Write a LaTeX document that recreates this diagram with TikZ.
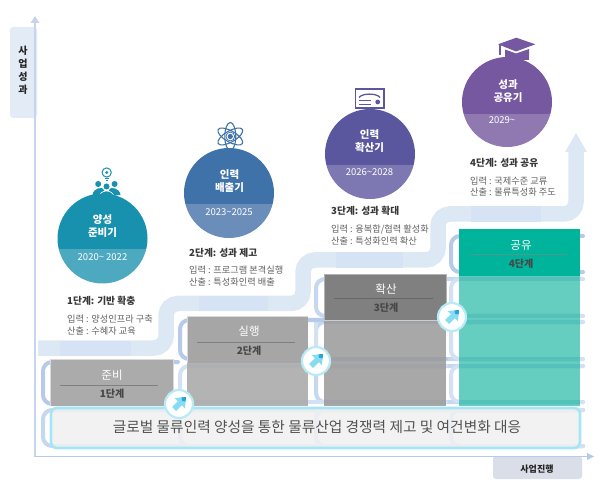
\documentclass[tikz,border=0pt]{standalone}
\usepackage{fontspec}
\setmainfont{Noto Sans CJK KR}
\usetikzlibrary{calc}
\definecolor{flow}{HTML}{DDE8F5}
\definecolor{rowA}{HTML}{B7CAE9}
\definecolor{rowB}{HTML}{C6D7F0}
\definecolor{rowC}{HTML}{D3E1F3}
\definecolor{cy}{HTML}{A6E6F4}
\definecolor{tagb}{HTML}{D9DEE8}
\definecolor{tealA}{HTML}{00AD96}
\definecolor{tealB}{HTML}{00B39B}
\definecolor{tealC}{HTML}{4C9A8E}
\definecolor{ic1}{HTML}{1791AE}
\definecolor{ic2}{HTML}{3F72A8}
\definecolor{ic3}{HTML}{5A579E}
\definecolor{ic4}{HTML}{7558A0}
\definecolor{lo1}{HTML}{4CA9C0}
\definecolor{lo2}{HTML}{6A8DB9}
\definecolor{lo3}{HTML}{7D78B1}
\definecolor{lo4}{HTML}{9078B1}
\definecolor{arL}{HTML}{86DDF2}
\definecolor{arD}{HTML}{2AA3DC}
\tikzset{
  rowline/.style={line width=4pt,line cap=round,rounded corners=9pt},
  head/.style={anchor=west,font=\fontsize{9.7}{11}\selectfont\bfseries,text=black!78,inner sep=0pt},
  desc/.style={anchor=west,font=\fontsize{9.2}{10}\selectfont,text=black!62,inner sep=0pt},
  ctitle/.style={font=\fontsize{10.5}{14}\selectfont\bfseries,text=white,align=center,inner sep=0pt},
  cdate/.style={font=\fontsize{9.5}{11}\selectfont,text=white!85,inner sep=0pt},
  btitle/.style={font=\fontsize{11.5}{14}\selectfont,text=white!93,inner sep=0pt},
  bstep/.style={font=\fontsize{10}{12}\selectfont\bfseries,text=black!72,inner sep=0pt},
  tagtext/.style={font=\fontsize{10}{12}\selectfont\bfseries,text=black!85,inner sep=0pt},
}
\newcommand{\orb}[5]{% x,y,cutY,top colour,lower colour
  \begin{scope}
    \clip (#1,#2) circle (45);
    \fill[#4] (#1-46,#2-46) rectangle (#1+46,#3);
    \fill[#5] (#1-46,#3) rectangle (#1+46,#2+46);
  \end{scope}
}
\newcommand{\badge}[2]{%
  \begin{scope}[shift={(#1,#2)}]
    \fill[white] (0,0) circle (14);
    \draw[cy!80!white,line width=2.2pt] (0,0) circle (14);
    \fill[arL] (7,-7)--(-4.5,-6)--(-1.2,-2.8)--(-7,3)--(-3,7)--(2.8,1.2)--(6,4.5)--cycle;
    \fill[arD] (7,-7)--(2.5,-6.6)--(3.2,-3.2)--(6.6,-2.5)--cycle;
  \end{scope}
}
\begin{document}
\begin{tikzpicture}[x=1pt,y=-1pt]
\useasboundingbox (0,0) rectangle (606,492);
% tags
\fill[rounded corners=3pt,fill=flow!85!white] (10,27) rectangle (37,118);
\fill[rounded corners=3pt,fill=tagb] (493,456) rectangle (582,479);
% axes
\draw[draw=rowA!80!white,line width=1.8pt] (35,23) -- (35,456.5);
\fill[rowA!80!white] (35,16)--(30.5,23)--(39.5,23)--cycle;
\draw[draw=rowA,line width=1.5pt] (35,456.5) -- (588,456.5);
\fill[rowA] (594,456.5)--(587,453)--(587,460)--cycle;
\node[tagtext] (ty1) at (23,51) {사};
\node[tagtext] (ty2) at (23,64) {업};
\node[tagtext] (ty3) at (23,77) {성};
\node[tagtext] (ty4) at (23,89.5) {과};
\node[tagtext,font=\fontsize{9}{11}\selectfont\bfseries] (tx) at (537,469) {사업진행};
% flow band
\draw[flow,line width=15.5pt,rounded corners=12pt] (38,348) -- (166,348) -- (166,303.5) -- (303,303.5) -- (303,260) -- (438,260) -- (438,214) -- (576,214) -- (576,150);
\fill[flow] (576,133)--(587,152)--(565,152)--cycle;
\fill[rowC!65!flow] (60,341) rectangle (131,355.5);
\fill[rowC!65!flow] (199,296) rectangle (268,311);
\fill[rowC!65!flow] (336,252.5) rectangle (403,268);
\fill[rowC!65!flow] (471,206.5) rectangle (541,222);
% stacked rows behind the columns
\draw[rowA,rowline] (583,236)--(451,236)--(451,272)--(583,272);
\draw[rowB,rowline] (583,279)--(316,279)--(316,316)--(583,316);
\draw[rowC,rowline] (583,279)--(451,279)--(451,316)--(583,316);
\draw[rowB,rowline] (583,322)--(316,322)--(316,359)--(583,359);
\draw[rowC,rowline] (316,322)--(316,359);
\draw[rowC,rowline] (583,322)--(451,322)--(451,359)--(583,359);
\draw[rowA,rowline] (446,320)--(180,320)--(180,359)--(446,359);
\draw[rowB,rowline] (583,366)--(316,366)--(316,402)--(583,402);
\draw[rowC,rowline] (583,366)--(451,366)--(451,402)--(583,402);
\draw[rowC,rowline] (446,366)--(180,366)--(180,402)--(446,402);
\draw[rowA,rowline] (178,362)--(43,362)--(43,404)--(178,404);
\draw[rowB,rowline] (583,410)--(43,410)--(43,446)--(583,446);
\draw[rowC,rowline] (583,410)--(180,410)--(180,446)--(583,446);
\draw[rowC,rowline] (583,410)--(316,410)--(316,446)--(583,446);
\draw[rowC,rowline] (583,410)--(451,410)--(451,446)--(583,446);
% column bodies
\fill[black!33,opacity=.9] (187,363) rectangle (308,406);
\fill[black!40,opacity=.85] (324,320) rectangle (446,406);
\fill[tealA,opacity=.6] (459,276) rectangle (580,406);
% column heads
\fill[black!33] (50,359) rectangle (173,406);
\draw[black!15,line width=1pt] (50,406)--(50,359.5)--(173,359.5)--(173,406);
\fill[black!35] (187,316) rectangle (308,363);
\draw[black!15,line width=1pt] (187,363)--(187,316.5)--(308,316.5);
\fill[black!50] (324,274) rectangle (446,320);
\draw[black!30,line width=1pt] (324,320)--(324,274.5)--(446,274.5)--(446,320);
\draw[black!20,line width=1pt] (324,320.5)--(446,320.5);
\fill[tealB] (459,229.5) rectangle (580,276);
\draw[black!50,line width=1pt] (60,385)--(158,385);
\draw[black!50,line width=1pt] (197,342)--(295,342);
\draw[black!60,line width=1pt] (334,299)--(433,299);
\draw[tealC,line width=1pt] (469,255)--(567,255);
\node[btitle] (b1) at (112,375) {준비};
\node[bstep] (s1) at (112,394) {1단계};
\node[btitle] (b2) at (249,331) {실행};
\node[bstep] (s2) at (249,351) {2단계};
\node[btitle] (b3) at (386,289) {확산};
\node[bstep] (s3) at (386,308) {3단계};
\node[btitle] (b4) at (521,245) {공유};
\node[bstep] (s4) at (521,264) {4단계};
% base panel
\fill[black!6,opacity=.85,rounded corners=6pt] (51,408) rectangle (580,448);
\draw[cy,line width=2.6pt,rounded corners=6pt] (51,408) rectangle (580,448);
\node[inner sep=0pt,text=black!68,font=\fontsize{14.7}{18}\selectfont] (base) at (317,427) {글로벌 물류인력 양성을 통한 물류산업 경쟁력 제고 및 여건변화 대응};
% badges
\badge{179}{404}
\badge{316}{361}
\badge{452}{317}
% icon 1
\draw[ic1,line width=1pt] (106.7,172.5) circle (4.6);
\fill[ic1] (106.7,172.5) circle (1.6);
\draw[ic1,line width=.8pt] (104.8,178.5)--(108.6,178.5) (105.5,180.3)--(107.9,180.3);
\fill[ic1] (98.2,184) circle (3) (114.6,184) circle (3) (106.5,186.5) circle (3);
\fill[ic1] (92.5,195) .. controls (93,188) and (103,186) .. (104,190) -- (104,196) -- cycle;
\fill[ic1] (120.5,195) .. controls (120,188) and (110,186) .. (109,190) -- (109,196) -- cycle;
\fill[ic1,draw=white,line width=.7pt] (99,197) .. controls (100,189) and (113,189) .. (114,197) -- cycle;
% icon 2
\begin{scope}[shift={(230.3,136.5)}]
\foreach \a in {90,30,-30} \draw[ic2,line width=1.1pt,rotate=\a] (0,0) ellipse (14 and 5.5);
\fill[white] (0,0) circle (4.8);
\draw[ic2,line width=.8pt] (0,0) circle (4.4);
\fill[ic2] (0,0) circle (2.6);
\end{scope}
% icon 3
\draw[ic3,line width=1.7pt] (355.5,89) rectangle (384,108);
\draw[ic3,line width=1.3pt] (359,97.5) .. controls (362,93) and (377,93) .. (380,97.5);
\draw[ic3,line width=1pt] (359,101)--(371,101) (359,105)--(371,105);
\fill[ic3] (377.7,102) circle (2.4);
% icon 4
\fill[ic4] (498,44.3)--(516.3,37.7)--(535.3,44.3)--(516,51.5)--cycle;
\fill[ic4] (505,49.5)--(516,53.5)--(529,49)--(529,60)--(505,60)--cycle;
\draw[ic4,line width=1.2pt] (500,45)--(500,55.5);
% orbs
\orb{102.5}{238.5}{249}{ic1}{lo1}
\orb{229}{193}{204}{ic2}{lo2}
\orb{370}{154}{165}{ic3}{lo3}
\orb{507}{102}{114}{ic4}{lo4}
\node[ctitle] (c1) at (102.5,226) {양성\\[-.5pt]준비기};
\node[cdate] (d1) at (102.5,257) {2020\textasciitilde{} 2022};
\node[ctitle] (c2) at (229.5,181) {인력\\[-.5pt]배출기};
\node[cdate] (d2) at (229,212) {2023\textasciitilde 2025};
\node[ctitle] (c3) at (369.5,141) {인력\\[-.5pt]확산기};
\node[cdate] (d3) at (369.5,172) {2026\textasciitilde 2028};
\node[ctitle] (c4) at (508,91) {성과\\[-.5pt]공유기};
\node[cdate] (d4) at (502,120.5) {2029\textasciitilde};
% descriptions
\node[head] (h1) at (67,301) {1단계: 기반 확충};
\node[desc] (i1) at (67,319) {입력 : 양성인프라 구축};
\node[desc] (o1) at (67,331) {산출 : 수혜자 교육};
\node[head] (h2) at (189,253) {2단계: 성과 제고};
\node[desc] (i2) at (189,270) {입력 : 프로그램 본격실행};
\node[desc] (o2) at (189,282) {산출 : 특성화인력 배출};
\node[head] (h3) at (331,211) {3단계: 성과 확대};
\node[desc] (i3) at (331,229) {입력 : 융복합/협력 활성화};
\node[desc] (o3) at (331,241) {산출 : 특성화인력 확산};
\node[head] (h4) at (470,163) {4단계: 성과 공유};
\node[desc] (i4) at (470,181) {입력 : 국제수준 교류};
\node[desc] (o4) at (470,192.5) {산출 : 물류특성화 주도};
\end{tikzpicture}
\end{document}
